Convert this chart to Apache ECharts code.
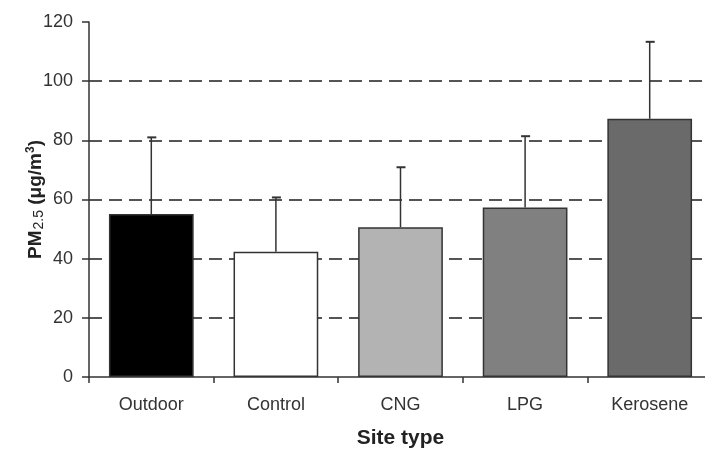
<!DOCTYPE html>
<html>
<head>
<meta charset="utf-8">
<script src="https://cdn.jsdelivr.net/npm/echarts@6/dist/echarts.min.js"></script>
<style>html,body{margin:0;padding:0;background:#fff}#c{width:705px;height:450px}</style>
</head>
<body>
<div id="c"></div>
<script>
const categories = ['Outdoor', 'Control', 'CNG', 'LPG', 'Kerosene'];
const means = [55.1, 42.3, 50.6, 57.3, 87.3];
const sds = [25.9, 18.4, 20.3, 24.1, 26.0];
const barColors = ['#000000', '#ffffff', '#b3b3b3', '#808080', '#6a6a6a'];
const yTicks = [0, 20, 40, 60, 80, 100, 120];

const chart = echarts.init(document.getElementById('c'));
const font = '"Liberation Sans", Arial, sans-serif';
chart.setOption({
  animation: false,
  backgroundColor: '#fff',
  grid: { left: 89, top: 22, bottom: 73, width: 623, outerBoundsMode: 'none', containLabel: false },
  xAxis: {
    type: 'category',
    data: categories,
    name: 'Site type',
    nameLocation: 'middle',
    nameGap: 51,
    nameMoveOverlap: false,
    nameTextStyle: { fontFamily: font, fontSize: 21, fontWeight: 'bold', color: '#222' },
    axisLine: { lineStyle: { color: '#333', width: 1.5 } },
    axisTick: { show: true, length: 6, lineStyle: { color: '#333', width: 1.5 } },
    axisLabel: { fontFamily: font, fontSize: 18, color: '#333', margin: 19 },
    splitLine: { show: false }
  },
  yAxis: {
    type: 'value',
    min: yTicks[0],
    max: yTicks[yTicks.length - 1],
    interval: 20,
    name: '{b|PM}{s|2.5}{b| (μg/m}{p|3}{b|)}',
    nameLocation: 'middle',
    nameGap: 42,
    nameMoveOverlap: false,
    nameRotate: 90,
    nameTextStyle: {
      rich: {
        b: { fontFamily: font, fontSize: 19, fontWeight: 'bold', color: '#222', lineHeight: 22, verticalAlign: 'middle' },
        s: { fontFamily: font, fontSize: 14, color: '#222', lineHeight: 22, verticalAlign: 'bottom', padding: [0, 0, 1, 1] },
        p: { fontFamily: font, fontSize: 12, fontWeight: 'bold', color: '#222', lineHeight: 22, verticalAlign: 'top' }
      }
    },
    axisLine: { show: true, lineStyle: { color: '#333', width: 1.5 } },
    axisTick: { show: true, length: 7, lineStyle: { color: '#333', width: 1.5 } },
    axisLabel: { fontFamily: font, fontSize: 18, color: '#333', margin: 16 },
    splitLine: {
      show: true,
      showMinLine: false,
      showMaxLine: false,
      lineStyle: { color: '#555', width: 2, type: [13, 7] }
    }
  },
  series: [
    {
      type: 'bar',
      data: means.map((v, i) => ({ value: v, itemStyle: { color: barColors[i] } })),
      barCategoryGap: '32%',
      itemStyle: { borderColor: '#333', borderWidth: 1.5 },
      z: 2
    },
    {
      type: 'custom',
      z: 3,
      data: means.map((m, i) => [i, m, m + sds[i]]),
      renderItem: function (params, api) {
        const x = api.value(0);
        const low = api.coord([x, api.value(1)]);
        const high = api.coord([x, api.value(2)]);
        const style = { stroke: '#333', lineWidth: 1.5 };
        return {
          type: 'group',
          children: [
            { type: 'line', shape: { x1: low[0], y1: low[1], x2: high[0], y2: high[1] }, style: style },
            { type: 'line', shape: { x1: high[0] - 4, y1: high[1], x2: high[0] + 5, y2: high[1] }, style: { stroke: '#333', lineWidth: 2 } }
          ]
        };
      }
    }
  ]
});
</script>
</body>
</html>
